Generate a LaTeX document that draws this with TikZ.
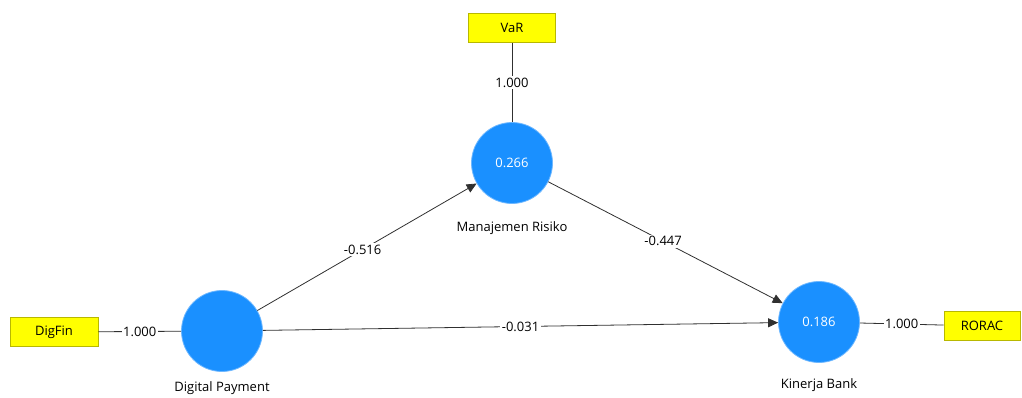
\documentclass[tikz,border=0pt]{standalone}
\usepackage{fontspec}
\setmainfont{Open Sans}
\usetikzlibrary{arrows.meta}
\definecolor{lvblue}{HTML}{1A90FF}
\definecolor{lvborder}{HTML}{6FB8FF}
\definecolor{mvfill}{HTML}{FFFF00}
\definecolor{mvborder}{HTML}{B8B800}
\definecolor{edgecol}{HTML}{303030}
\tikzset{
  latent/.style={circle, fill=lvblue, draw=lvborder, line width=0.8pt, minimum size=81pt, inner sep=0pt, text=white, font=\fontsize{13}{15}\selectfont},
  manifest/.style={rectangle, fill=mvfill, draw=mvborder, line width=0.8pt, minimum height=29pt, inner sep=0pt, font=\fontsize{13}{15}\selectfont},
  lvlabel/.style={font=\fontsize{13}{15}\selectfont, text=black},
  edge/.style={draw=edgecol, line width=0.8pt},
  path/.style={edge, -{Triangle[length=10pt, width=9pt]}},
  coef/.style={fill=white, inner sep=1.5pt, font=\fontsize{13}{15}\selectfont, text=black}
}
\begin{document}
\begin{tikzpicture}[x=1pt, y=-1pt]
\useasboundingbox (0,0) rectangle (1022,397);
\node[latent] (mr) at (512,163) {0.266};
\node[latent] (dp) at (222,331) {};
\node[latent] (kb) at (819,322) {0.186};
\node[lvlabel] (mrl) at (512,228) {Manajemen Risiko};
\node[lvlabel] (dpl) at (222,388) {Digital Payment};
\node[lvlabel] (kbl) at (819,385) {Kinerja Bank};
\node[manifest, minimum width=87pt] (var) at (512,28) {VaR};
\node[manifest, minimum width=88pt] (dig) at (54,332) {DigFin};
\node[manifest, minimum width=76pt] (ror) at (982,326) {RORAC};
\draw[edge] (var) -- node[coef, pos=0.5] {1.000} (mr);
\draw[edge] (dig) -- node[coef, pos=0.5] {1.000} (dp);
\draw[edge] (kb) -- node[coef, pos=0.5] {1.000} (ror);
\draw[path] (dp) -- node[coef, pos=0.48] {-0.516} (mr);
\draw[path] (mr) -- node[coef, pos=0.49] {-0.447} (kb);
\draw[path] (dp) -- node[coef, pos=0.5] {-0.031} (kb);
\end{tikzpicture}
\end{document}
